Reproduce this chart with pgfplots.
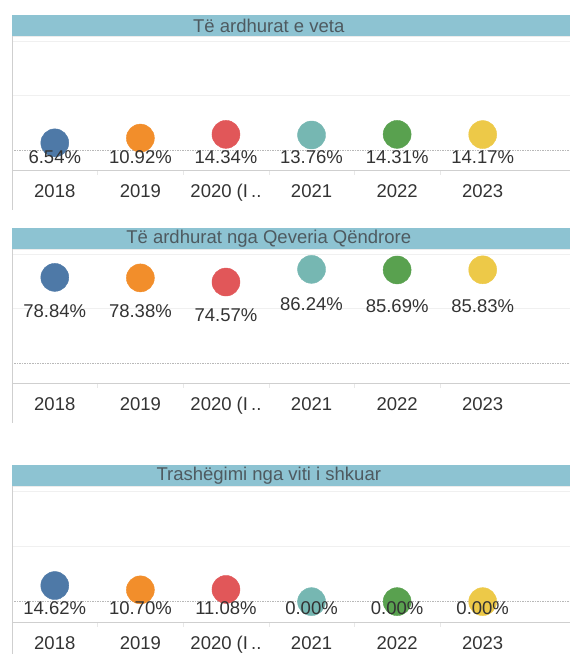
\documentclass[border=0pt]{standalone}
\usepackage{pgfplots}
\pgfplotsset{compat=1.18}
\usepackage{pgfplotstable}
\usepackage{fontspec}
\setmainfont{Liberation Sans}

\definecolor{c1}{HTML}{4E79A7}
\definecolor{c2}{HTML}{F28E2B}
\definecolor{c3}{HTML}{E15759}
\definecolor{c4}{HTML}{76B7B2}
\definecolor{c5}{HTML}{59A14F}
\definecolor{c6}{HTML}{EDC948}
\definecolor{titlebg}{HTML}{8DC3D2}
\definecolor{titletxt}{HTML}{4E5A60}
\definecolor{txt}{HTML}{333333}
\definecolor{axline}{HTML}{CFCFCF}

% x = category, y = share, ly = where the label sits
\pgfplotstableread{
x y ly c
0 6.54 -6.5 a
1 10.92 -6.5 b
2 14.34 -6.5 c
3 13.76 -6.5 d
4 14.31 -6.5 e
5 14.17 -6.5 f
}\veta
\pgfplotstableread{
x y ly c
0 78.84 48.2 a
1 78.38 48.2 b
2 74.57 43.6 c
3 86.24 54.5 d
4 85.69 52.7 e
5 85.83 52.7 f
}\qeveria
\pgfplotstableread{
x y ly c
0 14.62 -5.5 a
1 10.70 -5.5 b
2 11.08 -5.5 c
3 0.00 -5.5 d
4 0.00 -5.5 e
5 0.00 -5.5 f
}\trash

\pgfplotsset{
  panel/.style={
    scale only axis, width=558pt, anchor=south west,
    xmin=-0.5, xmax=6.02, ymin=-18.5, ymax=105,
    clip=false, axis line style={draw=none},
    xtick={0,...,5},
    xticklabels={2018,2019,2020 (I\,..,2021,2022,2023},
    xticklabel style={anchor=base, yshift=-27pt, text=txt},
    ytick={50,100}, yticklabels={},
    ymajorgrids, grid style={gray!12, line width=0.8pt},
    major tick length=0pt,
    extra y ticks={0}, extra y tick labels={},
    extra y tick style={grid=major, major grid style={gray!55, line width=0.5pt, dash pattern=on 1.5pt off 1pt}},
    extra x ticks={0.5,1.5,2.5,3.5,4.5}, extra x tick labels={},
    extra x tick style={major tick length=5pt, tick align=outside, tick style={draw=gray!18}},
    font=\fontsize{18.5}{22}\selectfont,
  },
  dots/.style={scatter, only marks, mark size=14pt,
    scatter src=explicit symbolic,
    scatter/classes={
      a={mark=*,draw=c1,fill=c1}, b={mark=*,draw=c2,fill=c2},
      c={mark=*,draw=c3,fill=c3}, d={mark=*,draw=c4,fill=c4},
      e={mark=*,draw=c5,fill=c5}, f={mark=*,draw=c6,fill=c6}}},
  labs/.style={only marks, mark=none, point meta=explicit,
    nodes near coords={\pgfmathprintnumber[fixed,fixed zerofill,precision=2,assume math mode=true]{\pgfplotspointmeta}\%},
    every node near coord/.append style={anchor=center, text=txt, inner sep=0pt}},
}

\newcommand{\panelframe}[2]{%
  \draw[axline, line width=0.8pt] (rel axis cs:0,0) -- (rel axis cs:1,0);
  \draw[gray!15, line width=0.8pt] (rel axis cs:0,1) -- (rel axis cs:1,1);
  \draw[axline, line width=0.8pt] (rel axis cs:0,1) -- ([yshift=-#1]rel axis cs:0,0);
  \fill[titlebg] (rel axis cs:0,1) rectangle ([yshift=21pt]rel axis cs:1,1);
  \node[text=titletxt, anchor=center] at ([yshift=10.5pt]axis cs:2.5,105) {#2};
}

\begin{document}
\begin{tikzpicture}

\begin{axis}[panel, height=134pt, at={(12pt,-170pt)}]
\panelframe{40pt}{Të ardhurat e veta}
\addplot[dots] table[x=x, y=y, meta=c] {\veta};
\addplot[labs] table[x=x, y=ly, meta=y] {\veta};
\end{axis}

\begin{axis}[panel, height=134pt, at={(12pt,-383pt)}]
\panelframe{40pt}{Të ardhurat nga Qeveria Qëndrore}
\addplot[dots] table[x=x, y=y, meta=c] {\qeveria};
\addplot[labs] table[x=x, y=ly, meta=y] {\qeveria};
\end{axis}

\begin{axis}[panel, height=136pt, at={(12pt,-622pt)}]
\panelframe{32pt}{Trashëgimi nga viti i shkuar}
\addplot[dots] table[x=x, y=y, meta=c] {\trash};
\addplot[labs] table[x=x, y=ly, meta=y] {\trash};
\end{axis}

\pgfresetboundingbox
\useasboundingbox (0pt,0pt) rectangle (570pt,-654pt);
\end{tikzpicture}
\end{document}
